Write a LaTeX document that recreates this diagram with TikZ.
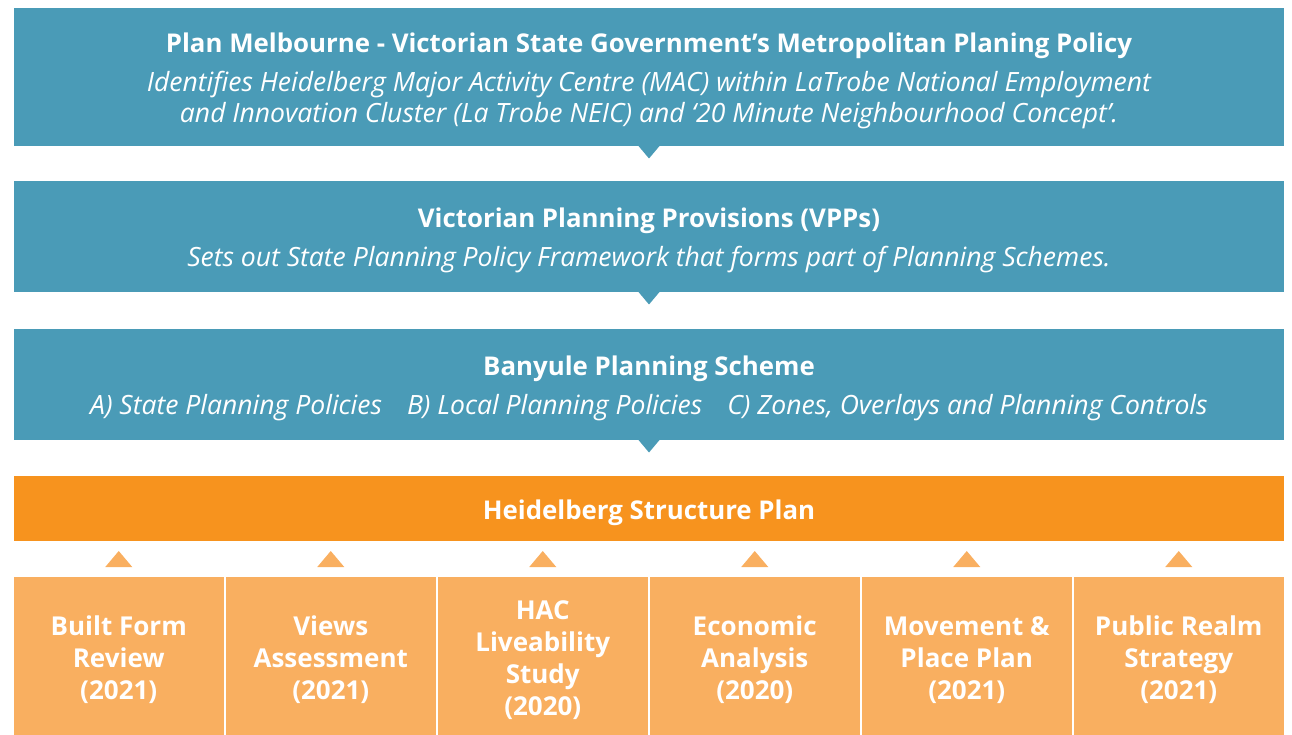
\documentclass[tikz,border=0pt]{standalone}
\usepackage{fontspec}
\setmainfont{Open Sans}
\usepackage{tikz}
\usetikzlibrary{positioning}
\usepackage{xcolor}
\definecolor{policyblue}{RGB}{74,155,183}
\definecolor{planorange}{RGB}{247,147,30}
\definecolor{studyorange}{RGB}{249,175,96}
\newcommand{\lift}{\rule{0pt}{0.55cm}}

\begin{document}
\begin{tikzpicture}[policy/.style={rectangle, fill=policyblue, text=white, minimum width=25.4cm, inner sep=0pt, outer sep=0pt, align=center, font=\fontsize{15.1}{17.6}\selectfont},plan/.style={rectangle, fill=planorange, text=white, minimum width=25.4cm, minimum height=1.3cm, inner sep=0pt, outer sep=0pt, font=\fontsize{14.7}{17.6}\selectfont\bfseries},study/.style={rectangle, fill=studyorange, text=white, minimum width=4.19cm, minimum height=3.16cm, inner sep=0pt, outer sep=0pt, align=center, font=\fontsize{14.8}{18.2}\selectfont\bfseries},downtip/.style={fill=policyblue},uptip/.style={fill=studyorange}]
  \useasboundingbox (0,0) rectangle (25.84,-14.7);
  \node[policy, minimum height=2.76cm, anchor=north west] (melb) at (0.28,-0.16) {\lift{\fontsize{14.7}{17.6}\selectfont\bfseries Plan Melbourne - Victorian State Government’s Metropolitan Planing Policy}\\[0.17cm]{\itshape Identifies Heidelberg Major Activity Centre (MAC) within LaTrobe National Employment}\\{\itshape and Innovation Cluster (La Trobe NEIC) and ‘20 Minute Neighbourhood Concept’.}};
  \node[policy, minimum height=2.22cm, below=0.7cm of melb] (vpp) {\lift{\fontsize{14.7}{17.6}\selectfont\bfseries Victorian Planning Provisions (VPPs)}\\[0.17cm]{\itshape Sets out State Planning Policy Framework that forms part of Planning Schemes.}};
  \node[policy, minimum height=2.22cm, below=0.74cm of vpp] (banyule) {\lift{\fontsize{14.7}{17.6}\selectfont\bfseries Banyule Planning Scheme}\\[0.17cm]{\itshape A) State Planning Policies\hspace{0.5cm}B) Local Planning Policies\hspace{0.5cm}C) Zones, Overlays and Planning Controls}};
  \node[plan, below=0.72cm of banyule] (hsp) {\lift Heidelberg Structure Plan};
  \node[study, anchor=north west] (built) at ([yshift=-0.72cm]hsp.south west) {\lift Built Form\\Review\\(2021)};
  \node[study, right=0.05cm of built] (views) {\lift Views\\Assessment\\(2021)};
  \node[study, right=0.05cm of views] (hac) {\lift HAC\\Liveability\\Study\\(2020)};
  \node[study, right=0.05cm of hac] (econ) {\lift Economic\\Analysis\\(2020)};
  \node[study, right=0.05cm of econ] (move) {\lift Movement \&\\Place Plan\\(2021)};
  \node[study, right=0.05cm of move] (realm) {\lift Public Realm\\Strategy\\(2021)};
  % pointers between the levels
  \fill[downtip] (melb.south) ++(-0.21,0) -- ++(0.42,0) -- ++(-0.21,-0.25) -- cycle;
  \fill[downtip] (vpp.south) ++(-0.21,0) -- ++(0.42,0) -- ++(-0.21,-0.25) -- cycle;
  \fill[downtip] (banyule.south) ++(-0.21,0) -- ++(0.42,0) -- ++(-0.21,-0.25) -- cycle;
  \fill[uptip] ([yshift=0.2cm]built.north) ++(-0.27,0) -- ++(0.54,0) -- ++(-0.27,0.32) -- cycle;
  \fill[uptip] ([yshift=0.2cm]views.north) ++(-0.27,0) -- ++(0.54,0) -- ++(-0.27,0.32) -- cycle;
  \fill[uptip] ([yshift=0.2cm]hac.north) ++(-0.27,0) -- ++(0.54,0) -- ++(-0.27,0.32) -- cycle;
  \fill[uptip] ([yshift=0.2cm]econ.north) ++(-0.27,0) -- ++(0.54,0) -- ++(-0.27,0.32) -- cycle;
  \fill[uptip] ([yshift=0.2cm]move.north) ++(-0.27,0) -- ++(0.54,0) -- ++(-0.27,0.32) -- cycle;
  \fill[uptip] ([yshift=0.2cm]realm.north) ++(-0.27,0) -- ++(0.54,0) -- ++(-0.27,0.32) -- cycle;
\end{tikzpicture}
\end{document}
